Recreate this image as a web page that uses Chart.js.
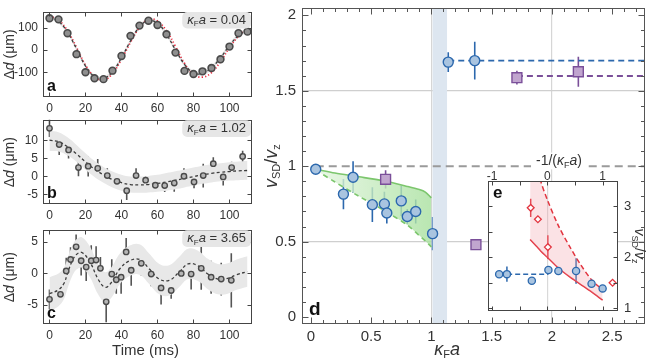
<!DOCTYPE html>
<html>
<head>
<meta charset="utf-8">
<script src="https://cdn.jsdelivr.net/npm/chart.js@4.4.0/dist/chart.umd.min.js"></script>
<style>
  body { margin: 0; background: #fff; }
  #wrap { position: relative; width: 653px; height: 361px; overflow: hidden; background: #fff; }
  canvas { position: absolute; }
</style>
</head>
<body>
<div id="wrap">
  <canvas id="pa" width="260" height="115" style="left:0;top:0"></canvas>
  <canvas id="pb" width="260" height="115" style="left:0;top:115px"></canvas>
  <canvas id="pc" width="260" height="136" style="left:0;top:225px"></canvas>
  <canvas id="pd" width="398" height="361" style="left:255px;top:0"></canvas>
  <canvas id="pe" width="183" height="190" style="left:470px;top:140px"></canvas>
</div>
<script>
// --- DATA ---

// panel a : kFa = 0.04
const tA = [0, 5, 10, 15, 20, 25, 30, 35, 40, 45, 50, 55, 60, 65, 70, 75, 80, 85, 90, 95, 100, 105, 110];
const dA = [142, 137, 75, -19, -100, -127, -131, -93, -27, 63, 109, 131, 112, 70, -12, -94, -108, -96, -81, -42, 15, 75, 82];
const fitA = [148, 128, 80, 5, -72, -120, -128, -98, -35, 40, 103, 132, 120, 70, 0, -65, -103, -105, -80, -35, 20, 65, 88];
const theoryA = [152, 135, 86, 12, -68, -120, -136, -106, -42, 34, 100, 138, 130, 86, 16, -60, -110, -122, -102, -52, 10, 62, 96];
const bandHiA = [158, 138, 90, 15, -62, -110, -118, -88, -25, 50, 113, 142, 130, 80, 10, -55, -93, -95, -70, -25, 30, 75, 98];
const bandLoA = [138, 118, 70, -5, -82, -130, -138, -108, -45, 30, 93, 122, 110, 60, -10, -75, -113, -115, -90, -45, 10, 55, 78];

// panel b : kFa = 1.02
const tB = [0, 5.4, 10.6, 16.1, 21.5, 26.8, 32.1, 37.5, 42.9, 48.1, 53.4, 58.8, 64, 69.3, 74.7, 80.3, 85.4, 91, 96.5, 101.2, 107.3];
const dB = [13.3, 8.8, 7.3, 2.4, 2.8, 2.2, 0.2, -1.4, -4.0, 0.2, -1.1, -2.5, -2.6, -1.9, 0, -1.6, 0.2, 3.5, -0.2, 2.4, 5.5];
const errB = [2.4, 2.9, 2.4, 2.4, 2.85, 2.6, 2.0, 2.0, 2.6, 2.0, 1.1, 1.3, 1.75, 2.4, 2.2, 1.75, 3.3, 1.75, 2.4, 1.6, 1.6];
const tFitB = [0, 5, 10, 15, 20, 25, 30, 35, 40, 45, 50, 55, 60, 65, 70, 75, 80, 85, 90, 95, 100, 105, 110];
const fitB = [10, 9.6, 8.2, 6.2, 4, 2, 0.4, -0.9, -1.8, -2.3, -2.4, -2.3, -2, -1.6, -1.1, -0.6, -0.1, 0.4, 0.8, 1.1, 1.3, 1.5, 1.6];
const bandHiB = [12.6, 12.2, 10.8, 8.7, 6.4, 4.3, 2.6, 1.3, 0.4, -0.1, -0.1, 0.1, 0.4, 0.9, 1.4, 1.9, 2.4, 2.9, 3.3, 3.6, 3.9, 4.1, 4.2];
const bandLoB = [7.0, 6.9, 5.8, 4.0, 1.8, -0.2, -1.8, -3.1, -4.0, -4.5, -4.6, -4.5, -4.3, -4.0, -3.6, -3.1, -2.6, -2.1, -1.7, -1.4, -1.2, -1.1, -1.0];

// panel c : kFa = 3.65
const tC = [0, 6.1, 9.3, 11.7, 14.8, 17.6, 20.4, 23.2, 25.9, 28.3, 31.5, 34.6, 37.1, 39.8, 42.6, 45.4, 51, 56.5, 62, 67.6, 73.2, 78.7, 84.3, 89.8, 95.4, 101];
const dC = [-4.1, -3.3, 0.4, 2.2, 4.2, 2.0, 1.0, 2.0, 2.1, 0.8, -4.5, -0.1, -1.0, -0.6, 3.4, 0.5, 1.6, -0.1, -2.3, -2.7, 0.0, -0.1, 0.8, -0.6, -0.9, -1.1];
const errC = [1.55, 1.2, 2.07, 1.94, 1.94, 2.33, 2.2, 2.46, 2.2, 1.8, 3.24, 2.33, 2.2, 2.6, 2.2, 2.46, 1.94, 1.94, 2.6, 1.3, 1.17, 2.46, 3.37, 2.6, 2.6, 4.3];
const tFitC = [0, 5, 8, 10, 12.5, 15, 18, 22.5, 27, 31, 34.5, 39, 44.5, 50, 55.5, 61, 66.5, 72, 77, 82.5, 88, 93.5, 99, 104, 110];
const fitC = [-3.2, -2.6, -1.6, 0, 1.9, 3.0, 3.3, 1.8, -0.9, -2.2, -1.4, 0.7, 2.0, 2.2, 0.7, -0.9, -1.1, 0.2, 1.5, 1.2, -0.1, -0.9, -0.8, -0.2, 0.3];
const bandHiC = [-0.6, 0, 0.9, 2.4, 4.3, 5.4, 5.7, 4.2, 1.5, 0.2, 1.0, 3.1, 4.4, 4.6, 3.1, 1.5, 1.3, 2.6, 3.9, 3.6, 2.3, 1.5, 1.6, 2.2, 2.7];
const bandLoC = [-6.0, -5.2, -4.1, -2.4, -0.5, 0.6, 0.9, -0.6, -3.3, -4.6, -3.8, -1.7, -0.4, -0.2, -1.7, -3.3, -3.5, -2.2, -0.9, -1.2, -2.5, -3.3, -3.2, -2.6, -2.1];

const timeTicks = [0, 20, 40, 60, 80, 100];

// panel d : vSD/vz vs kFa
const dBlueX = [0.04, 0.27, 0.35, 0.51, 0.61, 0.63, 0.75, 0.80, 0.87, 1.01, 1.14, 1.36];
const dBlueY = [0.98, 0.815, 0.927, 0.745, 0.75, 0.69, 0.77, 0.667, 0.70, 0.553, 1.69, 1.70];
const dBlueErr = [0.015, 0.10, 0.105, 0.115, 0.08, 0.07, 0.10, 0.05, 0.08, 0.11, 0.065, 0.125];
const dPurpleX = [0.62, 1.37, 1.71, 2.22];
const dPurpleY = [0.913, 0.48, 1.587, 1.626];
const dPurpleErr = [0.06, 0.02, 0.045, 0.1];
const blueLevel = 1.70, purpleLevel = 1.598, unityLevel = 1;
const greenX = [0.04, 0.2, 0.4, 0.6, 0.8, 0.9, 0.95, 1.0];
const greenHi = [0.98, 0.955, 0.93, 0.903, 0.866, 0.845, 0.828, 0.79];
const greenLo = [0.975, 0.895, 0.80, 0.71, 0.61, 0.54, 0.505, 0.465];
const bandX = [1.01, 1.13];
const dXTicks = [0, 0.5, 1, 1.5, 2, 2.5];
const dYTicks = [0, 0.5, 1, 1.5, 2];

// inset e : vSD/vz vs -1/(kFa)
const eBlueX = [-0.87, -0.73, -0.28, 0.02, 0.2, 0.52, 0.80, 1.0];
const eBlueY = [1.667, 1.67, 1.54, 1.75, 1.73, 1.73, 1.48, 1.39];
const eBlueErr = [0.03, 0.15, 0, 0, 0, 0.25, 0, 0];
const eRedX = [-0.3, -0.17, 0.01, 1.18];
const eRedY = [2.97, 2.745, 2.2, 1.50];
const eRedErr = [0.18, 0, 0.23, 0];
const eCurveX = [-0.31, -0.2, -0.115, 0, 0.2, 0.4, 0.6, 0.8, 1.0];
const eUpper = [4.3, 3.85, 3.48, 3.13, 2.62, 2.22, 1.86, 1.56, 1.36];
const eLower = [2.35, 2.22, 2.12, 2.0, 1.79, 1.62, 1.47, 1.32, 1.16];
const eXTicks = [-1, 0, 1];
const eYTicks = [1, 2, 3];

// --- SETUP ---
const FONT = "'Liberation Sans', Arial, sans-serif";
Chart.defaults.font.family = FONT;
Chart.defaults.color = '#333';
Chart.defaults.animation = false;
Chart.defaults.plugins.legend.display = false;
Chart.defaults.plugins.tooltip.enabled = false;

const pts = (xs, ys) => xs.map((x, i) => ({ x: x, y: ys[i] }));

// draws text made of parts (italic / subscript) centered at x,y
function rich(ctx, parts, x, y, size, o) {
  o = o || {};
  ctx.save();
  ctx.translate(x, y);
  if (o.rot) ctx.rotate(o.rot);
  const font = (p) => `${p.i ? 'italic ' : ''}${p.b ? 'bold ' : ''}${p.s ? Math.round(size * 0.62) : size}px ${FONT}`;
  let w = 0;
  parts.forEach((p) => { ctx.font = font(p); p.w = ctx.measureText(p.t).width; w += p.w; });
  let cx = o.align === 'left' ? 0 : o.align === 'right' ? -w : -w / 2;
  if (o.bg) {
    ctx.fillStyle = o.bg;
    if (o.round) {
      ctx.beginPath();
      ctx.roundRect(cx - o.pad, -size * 0.62, w + 2 * o.pad, size * 1.28, o.round);
      ctx.fill();
    } else {
      ctx.fillRect(cx - o.pad, -size * 0.6, w + 2 * o.pad, size * 1.2);
    }
  }
  ctx.fillStyle = o.color || '#333';
  ctx.textBaseline = 'middle';
  parts.forEach((p) => { ctx.font = font(p); ctx.fillText(p.t, cx, p.s ? size * 0.3 : 0); cx += p.w; });
  ctx.restore();
  return w;
}

// frame round the plot with inward tick marks on all sides
const framePlugin = {
  id: 'frame',
  afterDatasetsDraw(chart, args, o) {
    const { ctx, chartArea: a } = chart;
    const xs = chart.scales.x, ys = chart.scales.y;
    ctx.save();
    ctx.strokeStyle = o.color || '#444';
    ctx.lineWidth = 1;
    const L = Math.round(a.left) + 0.5, R = Math.round(a.right) - 0.5;
    const T = Math.round(a.top) + 0.5, B = Math.round(a.bottom) - 0.5;
    ctx.strokeRect(L, T, R - L, B - T);
    ctx.beginPath();
    const mark = (vals, len, horiz) => (vals || []).forEach((v) => {
      if (horiz) {
        const p = Math.round(xs.getPixelForValue(v)) + 0.5;
        ctx.moveTo(p, B); ctx.lineTo(p, B - len); ctx.moveTo(p, T); ctx.lineTo(p, T + len);
      } else {
        const p = Math.round(ys.getPixelForValue(v)) + 0.5;
        ctx.moveTo(L, p); ctx.lineTo(L + len, p); ctx.moveTo(R, p); ctx.lineTo(R - len, p);
      }
    });
    mark(o.xMajor, o.major, true); mark(o.xMinor, o.minor, true);
    mark(o.yMajor, o.major, false); mark(o.yMinor, o.minor, false);
    ctx.stroke();
    ctx.restore();
  },
};

// vertical error bars, drawn under the points
const errorPlugin = {
  id: 'errorBars',
  beforeDatasetsDraw(chart) {
    const ctx = chart.ctx;
    chart.data.datasets.forEach((ds, i) => {
      if (!ds.errors) return;
      const meta = chart.getDatasetMeta(i);
      const ys = chart.scales.y;
      ctx.save();
      ctx.strokeStyle = ds.errorColor;
      ctx.lineWidth = ds.errorWidth || 1.5;
      ctx.beginPath();
      ds.data.forEach((p, j) => {
        const e = ds.errors[j];
        if (!e) return;
        const x = meta.data[j].x;
        ctx.moveTo(x, ys.getPixelForValue(p.y - e));
        ctx.lineTo(x, ys.getPixelForValue(p.y + e));
      });
      ctx.stroke();
      ctx.restore();
    });
  },
};

// texts: labels and titles
const textPlugin = {
  id: 'texts',
  afterDraw(chart, args, o) {
    if (o.draw) o.draw(chart.ctx, chart.chartArea, chart);
  },
};

Chart.register(framePlugin, errorPlugin, textPlugin);

function axis(pos, min, max, ticks, size, pad, fontSize, gridVals, gridColor) {
  return {
    type: 'linear', position: pos, min: min, max: max,
    afterBuildTicks: (s) => { s.ticks = ticks.map((v) => ({ value: v })); },
    afterFit: (s) => {
      if (s.isHorizontal()) s.height = size; else s.width = size;
      s.paddingLeft = s.paddingRight = s.paddingTop = s.paddingBottom = 0;
    },
    grid: {
      drawTicks: false,
      lineWidth: 1.2,
      color: (c) => (gridVals && c.tick && gridVals.includes(c.tick.value) ? gridColor : 'transparent'),
    },
    border: { display: false },
    ticks: { padding: pad, font: { size: fontSize }, color: '#333', maxRotation: 0, autoSkip: false, callback: (v) => String(v) },
  };
}

const dashLine = (data, color, dash, width, tension, order) => ({
  data: data, showLine: true, pointRadius: 0, borderColor: color, borderDash: dash,
  borderWidth: width, tension: tension || 0, fill: false, order: order,
});

function kfaLabel(ctx, a, val) {
  rich(ctx, [{ t: 'κ', i: 1 }, { t: 'F', s: 1 }, { t: 'a', i: 1 }, { t: ' = ' + val }],
    a.right - 6, a.top + 8, 13, { align: 'right', bg: '#e6e6e6', pad: 5, round: 5, color: '#333' });
}
function ddLabel(ctx, a) {
  rich(ctx, [{ t: 'Δ' }, { t: 'd', i: 1 }, { t: ' (μm)' }], 10, (a.top + a.bottom) / 2, 14, { rot: -Math.PI / 2 });
}

// time-trace panels a, b, c
function timePanel(id, cfg) {
  const datasets = [
    {
      data: cfg.points, pointRadius: cfg.r, pointBackgroundColor: cfg.fill, pointBorderColor: '#4a4a4a',
      pointBorderWidth: cfg.bw, showLine: false, order: 0,
      errors: cfg.errors, errorColor: '#555', errorWidth: 1.6,
    },
    dashLine(cfg.fit, '#3c3c3c', [3, 2.5], 1.3, 0.4, 1),
  ];
  if (cfg.theory) datasets.push(dashLine(cfg.theory, '#e8283c', [1.2, 2.2], 1.7, 0.4, 2));
  const hiIdx = datasets.length;
  datasets.push({ data: cfg.bandHi, showLine: true, pointRadius: 0, borderWidth: 0, borderColor: 'transparent', tension: 0.4, fill: hiIdx + 1, backgroundColor: '#e8e8e8', order: 5 });
  datasets.push({ data: cfg.bandLo, showLine: true, pointRadius: 0, borderWidth: 0, borderColor: 'transparent', tension: 0.4, fill: false, order: 5 });

  return new Chart(document.getElementById(id), {
    type: 'scatter',
    data: { datasets: datasets },
    options: {
      responsive: false,
      layout: { padding: cfg.padding },
      scales: {
        x: axis('bottom', -3.6, 112.5, timeTicks, cfg.xh, cfg.xpad, 12),
        y: axis('left', cfg.ymin, cfg.ymax, cfg.yticks, 43, 5, 12),
      },
      plugins: {
        frame: { color: '#444', xMajor: timeTicks, yMajor: cfg.yticks, major: 4 },
        texts: {
          draw: (ctx, a) => {
            kfaLabel(ctx, a, cfg.kfa);
            ddLabel(ctx, a);
            rich(ctx, [{ t: cfg.letter, b: 1 }], a.left + 4, a.bottom - 10, 16, { align: 'left', color: '#111' });
            if (cfg.xTitle) rich(ctx, [{ t: 'Time (ms)' }], (a.left + a.right) / 2 - 2, a.bottom + 27, 15);
          },
        },
      },
    },
  });
}

timePanel('pa', {
  points: pts(tA, dA), fit: pts(tA, fitA), theory: pts(tA, theoryA),
  bandHi: pts(tA, bandHiA), bandLo: pts(tA, bandLoA),
  r: 3.4, fill: '#8f8f8f', bw: 1.6,
  padding: { top: 12, right: 8 }, xh: 18, xpad: 4,
  ymin: -211, ymax: 170, yticks: [-100, 0, 100], kfa: '0.04', letter: 'a',
});
timePanel('pb', {
  points: pts(tB, dB), errors: errB, fit: pts(tFitB, fitB),
  bandHi: pts(tFitB, bandHiB), bandLo: pts(tFitB, bandLoB),
  r: 2.7, fill: '#b5b5b5', bw: 1.4,
  padding: { top: 1, right: 8 }, xh: 26, xpad: 4,
  ymin: -7.7, ymax: 15.5, yticks: [-5, 0, 5, 10], kfa: '1.02', letter: 'b',
});
timePanel('pc', {
  points: pts(tC, dC), errors: errC, fit: pts(tFitC, fitC),
  bandHi: pts(tFitC, bandHiC), bandLo: pts(tFitC, bandLoC),
  r: 2.7, fill: '#b5b5b5', bw: 1.4,
  padding: { top: 4, right: 8 }, xh: 37, xpad: 4,
  ymin: -8, ymax: 6.8, yticks: [-5, 0, 5], kfa: '3.65', letter: 'c', xTitle: true,
});

// --- PANEL d ---
const minorD = (lo, hi) => { const out = []; for (let v = lo; v <= hi + 1e-9; v += 0.1) out.push(Math.round(v * 10) / 10); return out; };
const dXMax = 2.77;

new Chart(document.getElementById('pd'), {
  type: 'scatter',
  data: {
    datasets: [
      {
        data: pts(dBlueX, dBlueY), pointRadius: 5, pointBackgroundColor: '#a9c4e0', pointBorderColor: '#2c68ad',
        pointBorderWidth: 1.4, order: 0, errors: dBlueErr, errorColor: '#2c68ad', errorWidth: 1.6,
      },
      {
        data: pts(dPurpleX, dPurpleY), pointStyle: 'rect', pointRadius: 7, pointBackgroundColor: '#c1a5cf',
        pointBorderColor: '#7a4f99', pointBorderWidth: 1.4, order: 0, errors: dPurpleErr, errorColor: '#7a4f99', errorWidth: 1.6,
      },
      dashLine(pts([dBlueX[10], dXMax], [blueLevel, blueLevel]), '#2c68ad', [6, 4], 1.8, 0, 1),
      dashLine(pts([dPurpleX[2], dXMax], [purpleLevel, purpleLevel]), '#7a4f99', [6, 4], 1.8, 0, 1),
      dashLine(pts([dBlueX[0], dXMax], [unityLevel, unityLevel]), '#9a9a9a', [8, 5], 2, 0, 2),
      dashLine(pts(greenX, greenHi), '#7cc66d', [], 1.6, 0.3, 3),
      {
        data: pts(greenX, greenLo), showLine: true, pointRadius: 0, borderColor: '#7cc66d', borderDash: [5, 4],
        borderWidth: 1.6, tension: 0.3, order: 3, fill: 5,
        backgroundColor: (c) => {
          const ch = c.chart;
          if (!ch.chartArea) return 'rgba(160,220,150,0.5)';
          const xs = ch.scales.x;
          const g = ch.ctx.createLinearGradient(xs.getPixelForValue(0), 0, xs.getPixelForValue(1), 0);
          g.addColorStop(0, 'rgba(230,246,226,0.8)');
          g.addColorStop(1, 'rgba(168,224,158,0.8)');
          return g;
        },
      },
    ],
  },
  options: {
    responsive: false,
    layout: { padding: { top: 5, right: 7 } },
    scales: {
      x: axis('bottom', -0.074, dXMax, dXTicks, 37, 4, 15, [1, 2], '#d6d6d6'),
      y: axis('left', -0.046, 2.046, dYTicks, 47, 6, 15, [0.5, 1.5], '#cfcfcf'),
    },
    plugins: {
      frame: { color: '#555', xMajor: dXTicks, xMinor: minorD(0, 2.7), yMajor: dYTicks, yMinor: minorD(0, 2), major: 6, minor: 3.5 },
      texts: {
        draw: (ctx, a, ch) => {
          rich(ctx, [{ t: 'd', b: 1 }], a.left + 7, a.bottom - 14, 19, { align: 'left', color: '#111' });
          rich(ctx, [{ t: 'κ', i: 1 }, { t: 'F', s: 1 }, { t: 'a', i: 1 }], ch.scales.x.getPixelForValue(1.13), a.bottom + 26, 18);
          rich(ctx, [{ t: 'v', i: 1 }, { t: 'SD', s: 1 }, { t: '/' }, { t: 'v', i: 1 }, { t: 'z', s: 1 }], 17, (a.top + a.bottom) / 2, 18, { rot: -Math.PI / 2 });
        },
      },
    },
  },
  plugins: [{
    id: 'band',
    beforeDatasetsDraw(chart) {
      const { ctx, chartArea: a, scales } = chart;
      const x0 = scales.x.getPixelForValue(bandX[0]), x1 = scales.x.getPixelForValue(bandX[1]);
      ctx.save();
      ctx.fillStyle = '#dde6f0';
      ctx.fillRect(x0, a.top, x1 - x0, a.bottom - a.top);
      ctx.restore();
    },
  }],
});

// --- INSET e ---
new Chart(document.getElementById('pe'), {
  type: 'scatter',
  data: {
    datasets: [
      {
        data: pts(eBlueX, eBlueY), pointRadius: 3.6, pointBackgroundColor: '#a9c4e0', pointBorderColor: '#2c68ad',
        pointBorderWidth: 1.3, order: 0, errors: eBlueErr, errorColor: '#2c68ad', errorWidth: 1.5,
      },
      {
        data: pts(eRedX, eRedY), pointStyle: 'rectRot', pointRadius: 3.4, pointBackgroundColor: '#fff',
        pointBorderColor: '#e2343f', pointBorderWidth: 1.3, order: 0, errors: eRedErr, errorColor: '#e2343f', errorWidth: 1.5,
      },
      dashLine(pts([eBlueX[0], eBlueX[3]], [eBlueY[0], eBlueY[0]]), '#2c68ad', [5, 3], 1.6, 0, 1),
      {
        data: pts(eCurveX, eUpper), showLine: true, pointRadius: 0, borderColor: '#e2343f', borderDash: [5, 3],
        borderWidth: 1.5, tension: 0.3, order: 2, fill: 4, backgroundColor: 'rgba(242,160,170,0.3)',
      },
      dashLine(pts(eCurveX, eLower), '#e2343f', [], 1.5, 0.3, 2),
    ],
  },
  options: {
    responsive: false,
    layout: { padding: { left: 18, bottom: 19 } },
    scales: {
      x: axis('top', -1.072, 1.278, eXTicks, 41, -3, 12, [0], '#d9d9d9'),
      y: axis('right', 0.947, 3.496, eYTicks, 35, 6, 13),
    },
    plugins: {
      frame: { color: '#444', xMajor: [-1, -0.5, 0, 0.5, 1], yMajor: [1, 1.5, 2, 2.5, 3, 3.5], major: 4 },
      texts: {
        draw: (ctx, a) => {
          rich(ctx, [{ t: 'e', b: 1 }], a.left + 5, a.top + 12, 17, { align: 'left', color: '#111' });
          rich(ctx, [{ t: '-1/(' }, { t: 'κ', i: 1 }, { t: 'F', s: 1 }, { t: 'a', i: 1 }, { t: ')' }],
            (a.left + a.right) / 2 + 6, 21, 14, { bg: '#fff', pad: 5 });
          rich(ctx, [{ t: 'v', i: 1 }, { t: 'SD', s: 1 }, { t: '/' }, { t: 'v', i: 1 }, { t: 'z', s: 1 }],
            a.right + 21, (a.top + a.bottom) / 2, 14, { rot: Math.PI / 2 });
        },
      },
    },
  },
  plugins: [{
    id: 'whiteArea',
    beforeDraw(chart) {
      const { ctx, chartArea: a } = chart;
      ctx.save();
      ctx.fillStyle = '#fff';
      ctx.fillRect(a.left, a.top, a.right - a.left, a.bottom - a.top);
      ctx.restore();
    },
  }],
});
</script>
</body>
</html>
